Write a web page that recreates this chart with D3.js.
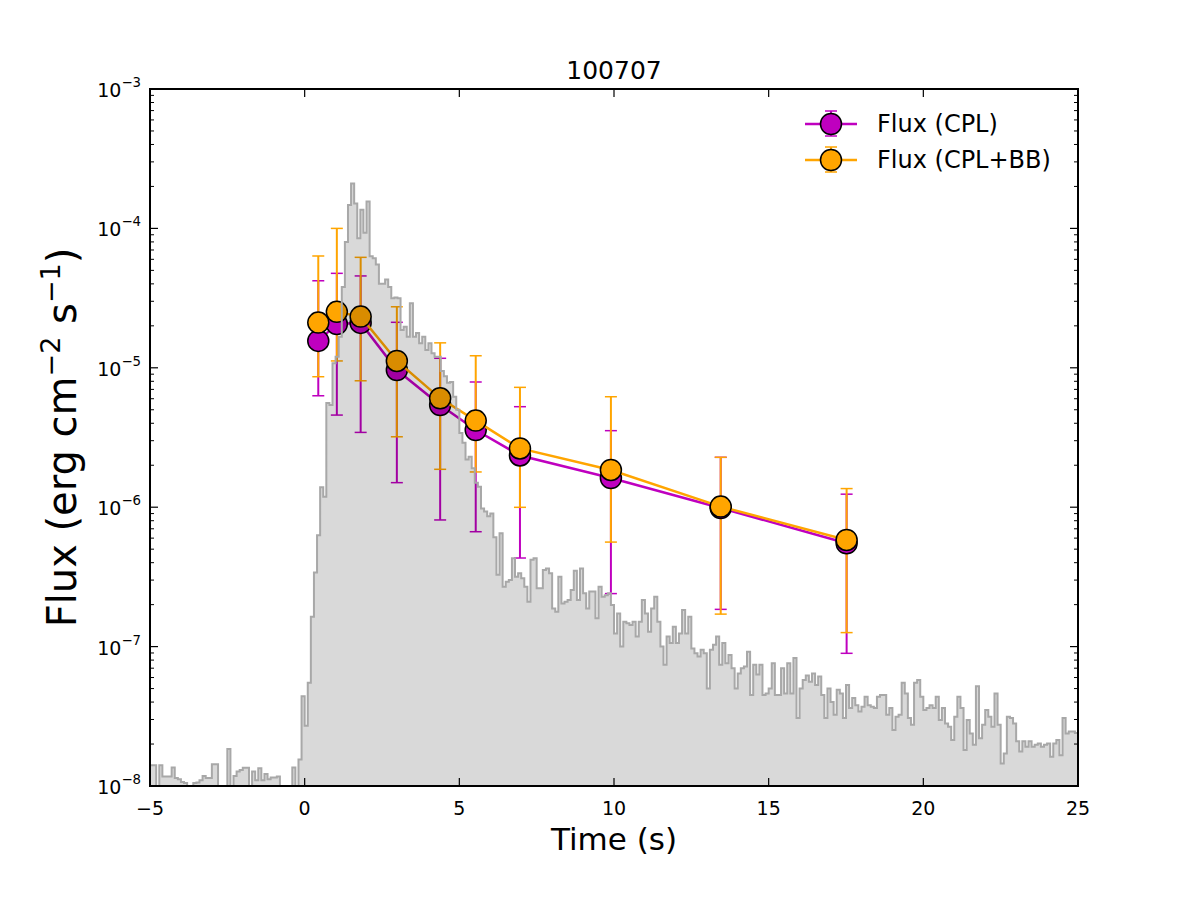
<!DOCTYPE html>
<html>
<head>
<meta charset="utf-8">
<script src="https://cdn.jsdelivr.net/npm/d3@7"></script>
<style>
body { margin: 0; background: #fff; }
text { font-family: "DejaVu Sans", sans-serif; fill: #000; }
</style>
</head>
<body>
<div id="chart"></div>
<script>
// light curve: 0.1 s bins from -5 s, values in units of 1e-8 erg cm^-2 s^-1 (0 = empty bin)
var histStart = -5;
var histBin = 0.1;
var histUnit = 1e-8;
var histVals = [
  // -5 .. 0 s
  1.41, 1.41, 0, 1.41, 1.17, 1.17, 1.17, 1.36, 1.14, 1.12,
  1.07, 1.05, 0, 0, 1.05, 1.06, 1.10, 1.18, 1.14, 1.14,
  1.43, 1.43, 0, 0, 0, 1.84, 0, 1.18, 1.27, 1.30,
  1.35, 1.35, 0, 1.27, 1.10, 1.34, 1.10, 1.22, 1.12, 1.15,
  1.15, 1.17, 0, 0, 0, 0, 1.36, 0, 1.55, 4.4,
  // 0 .. 5 s
  2.7, 5.5, 16.4, 34, 63, 139, 119, 560, 540, 1080,
  1200, 1670, 3800, 8000, 14700, 21000, 15100, 8500, 13600, 9300,
  15600, 6300, 6100, 5500, 4000, 4000, 4300, 3800, 3150, 3200,
  3150, 1870, 1970, 1670, 2900, 1670, 1780, 1500, 1670, 1340,
  1500, 1270, 1200, 1200, 950, 870, 780, 790, 620, 500,
  // 5 .. 10 s
  340, 290, 220, 230, 190, 150, 140, 98, 93, 86,
  90, 61, 32.7, 65, 26.9, 29.2, 30, 43, 31.7, 33.6,
  30.9, 26.9, 21, 42, 43, 26.2, 26.2, 35.5, 36.4, 33.6,
  18.8, 17.8, 31.7, 20.4, 21, 21.6, 25.5, 35, 21.6, 36.4,
  24.1, 18.8, 24.8, 24.8, 16, 26.9, 22.8, 23.4, 24.1, 19.9,
  // 10 .. 15 s
  12.4, 17.3, 10.0, 15.1, 14.7, 14.3, 15.1, 11.8, 15.1, 21.6,
  17.3, 12.8, 18.8, 22.8, 15.1, 10.0, 7.4, 11.8, 10.6, 13.9,
  10.6, 12.4, 18.3, 12.4, 16.4, 9.7, 8.95, 8.5, 9.5, 8.95,
  5.0, 9.5, 10.3, 11.8, 7.4, 10.6, 7.6, 8.7, 7.0, 5.0,
  6.4, 7.0, 7.2, 9.2, 4.5, 7.4, 6.3, 7.4, 4.5, 4.6,
  // 15 .. 25 s
  5.0, 7.6, 4.5, 4.5, 7.0, 4.6, 7.6, 4.6, 8.3, 3.07,
  5.0, 5.75, 6.2, 5.6, 6.4, 5.3, 6.1, 4.5, 3.07, 5.0,
  4.0, 3.24, 4.9, 4.6, 3.07, 5.3, 3.63, 4.27, 3.8, 3.43,
  3.71, 4.37, 3.8, 3.71, 3.63, 4.37, 4.5, 4.5, 3.24, 3.63,
  2.52, 3.14, 3.24, 5.5, 4.6, 3.07, 2.75, 5.5, 5.75, 4.37,
  3.51, 3.63, 3.8, 3.63, 4.37, 2.97, 3.63, 2.81, 2.66, 2.14,
  3.14, 4.37, 3.63, 1.81, 2.97, 2.38, 1.98, 5.2, 2.2, 2.75,
  3.51, 3.14, 2.66, 4.6, 2.75, 1.45, 1.71, 3.14, 3.07, 2.81,
  2.09, 1.77, 2.09, 1.91, 2.09, 1.91, 1.98, 2.02, 1.91, 1.98,
  2.02, 1.62, 2.02, 2.14, 1.66, 3.07, 2.38, 2.46, 2.46, 2.4
];

// time-resolved spectral fits
var times = [0.44, 1.04, 1.81, 2.98, 4.38, 5.53, 6.96, 9.90, 13.45, 17.52];
var fluxCPL   = [1.56e-5, 2.06e-5, 2.1e-5, 9.64e-6, 5.41e-6, 3.58e-6, 2.35e-6, 1.62e-6, 9.87e-7, 5.51e-7];
var fluxCPLhi = [4.21e-5, 4.76e-5, 4.56e-5, 2.12e-5, 1.17e-5, 7.91e-6, 5.26e-6, 3.54e-6, 2.28e-6, 1.24e-6];
var fluxCPLlo = [6.3e-6, 4.58e-6, 3.44e-6, 1.5e-6, 8.1e-7, 6.67e-7, 4.32e-7, 2.4e-7, 1.85e-7, 8.95e-8];
var fluxBB    = [2.11e-5, 2.52e-5, 2.33e-5, 1.12e-5, 6.04e-6, 4.18e-6, 2.64e-6, 1.85e-6, 1.01e-6, 5.82e-7];
var fluxBBhi  = [6.34e-5, 1.0e-4, 6.2e-5, 2.74e-5, 1.51e-5, 1.22e-5, 7.24e-6, 6.2e-6, 2.28e-6, 1.36e-6];
var fluxBBlo  = [8.63e-6, 1.12e-5, 8.07e-6, 3.2e-6, 1.87e-6, 1.79e-6, 9.98e-7, 5.62e-7, 1.71e-7, 1.26e-7];

var xTicks = [-5, 0, 5, 10, 15, 20, 25];
var yExps = [-8, -7, -6, -5, -4, -3];

var series = [
  {name: "Flux (CPL)", color: "#bf00bf", val: fluxCPL, lo: fluxCPLlo, hi: fluxCPLhi},
  {name: "Flux (CPL+BB)", color: "#ffa500", val: fluxBB, lo: fluxBBlo, hi: fluxBBhi}
];

var svgWidth = 1200, svgHeight = 900;
var margin = {top: 89, right: 122, bottom: 114, left: 150};
var width = svgWidth - margin.left - margin.right;
var height = svgHeight - margin.top - margin.bottom;

var svg = d3.select("#chart").append("svg")
  .attr("width", svgWidth)
  .attr("height", svgHeight);

svg.append("defs").append("clipPath").attr("id", "plotclip")
  .append("rect").attr("width", width).attr("height", height);

var g = svg.append("g")
  .attr("transform", `translate(${margin.left}, ${margin.top})`);

var x = d3.scaleLinear().domain([-5, 25]).range([0, width]);
var y = d3.scaleLog().domain([1e-8, 1e-3]).range([height, 0]);

var plot = g.append("g").attr("clip-path", "url(#plotclip)");

// error bars first, then lines and markers
series.forEach(function(s) {
  var eb = plot.append("g").attr("stroke", s.color);
  times.forEach(function(t, i) {
    var cx = x(t);
    eb.append("line").attr("x1", cx).attr("x2", cx)
      .attr("y1", y(s.lo[i])).attr("y2", y(s.hi[i])).attr("stroke-width", 2);
    [s.lo[i], s.hi[i]].forEach(function(v) {
      eb.append("line").attr("x1", cx - 6).attr("x2", cx + 6)
        .attr("y1", y(v)).attr("y2", y(v)).attr("stroke-width", 1.5);
    });
  });
});

series.forEach(function(s) {
  var line = d3.line().x(function(d, i) { return x(times[i]); }).y(function(d) { return y(d); });
  plot.append("path").datum(s.val)
    .attr("d", line)
    .attr("fill", "none")
    .attr("stroke", s.color)
    .attr("stroke-width", 2.5);
  plot.selectAll(null).data(s.val).enter().append("circle")
    .attr("cx", function(d, i) { return x(times[i]); })
    .attr("cy", function(d) { return y(d); })
    .attr("r", 10.5)
    .attr("fill", s.color)
    .attr("stroke", "#000")
    .attr("stroke-width", 1.5);
});

// light curve drawn on top, translucent
var floorVal = 1e-9;
var pts = [[x(histStart), y(floorVal)]];
histVals.forEach(function(v, i) {
  var x0 = histStart + i * histBin;
  var yy = v > 0 ? y(v * histUnit) : y(floorVal);
  pts.push([x(x0), yy], [x(x0 + histBin), yy]);
});
pts.push([x(histStart + histVals.length * histBin), y(floorVal)]);
plot.append("path")
  .attr("d", d3.line()(pts))
  .attr("fill", "#000")
  .attr("fill-opacity", 0.15)
  .attr("stroke", "#a8a8a8")
  .attr("stroke-width", 2);

// frame and ticks (inward, all four sides)
var ticks = g.append("g").attr("stroke", "#000");
xTicks.forEach(function(t) {
  ticks.append("line").attr("x1", x(t)).attr("x2", x(t)).attr("y1", height).attr("y2", height - 8).attr("stroke-width", 1.2);
  ticks.append("line").attr("x1", x(t)).attr("x2", x(t)).attr("y1", 0).attr("y2", 8).attr("stroke-width", 1.2);
});
yExps.forEach(function(e) {
  var yy = y(Math.pow(10, e));
  ticks.append("line").attr("x1", 0).attr("x2", 8).attr("y1", yy).attr("y2", yy).attr("stroke-width", 1.2);
  ticks.append("line").attr("x1", width).attr("x2", width - 8).attr("y1", yy).attr("y2", yy).attr("stroke-width", 1.2);
  if (e < -3) {
    d3.range(2, 10).forEach(function(m) {
      var ym = y(m * Math.pow(10, e));
      ticks.append("line").attr("x1", 0).attr("x2", 4).attr("y1", ym).attr("y2", ym).attr("stroke-width", 1);
      ticks.append("line").attr("x1", width).attr("x2", width - 4).attr("y1", ym).attr("y2", ym).attr("stroke-width", 1);
    });
  }
});
g.append("rect").attr("width", width).attr("height", height)
  .attr("fill", "none").attr("stroke", "#000").attr("stroke-width", 2);

// tick labels
xTicks.forEach(function(t) {
  g.append("text").attr("x", x(t)).attr("y", height + 29)
    .attr("text-anchor", "middle").attr("font-size", 19)
    .text(t < 0 ? "\u2212" + Math.abs(t) : t);
});
yExps.forEach(function(e) {
  var lab = g.append("text").attr("x", -9).attr("y", y(Math.pow(10, e)) + 8)
    .attr("text-anchor", "end").attr("font-size", 19);
  lab.append("tspan").text("10");
  lab.append("tspan").attr("dy", -10).attr("font-size", 13.3).text("\u2212" + Math.abs(e));
});

// title and axis labels
g.append("text").attr("x", width / 2).attr("y", -10)
  .attr("text-anchor", "middle").attr("font-size", 25).text("100707");
g.append("text").attr("x", width / 2).attr("y", height + 64)
  .attr("text-anchor", "middle").attr("font-size", 31).text("Time (s)");
var yl = g.append("text")
  .attr("transform", `translate(${-74}, ${height / 2}) rotate(-90)`)
  .attr("text-anchor", "middle").attr("font-size", 40);
yl.append("tspan").text("Flux (erg cm");
yl.append("tspan").attr("dy", -16).attr("font-size", 27).text("\u22122");
yl.append("tspan").attr("dy", 16).text(" s");
yl.append("tspan").attr("dy", -16).attr("font-size", 27).text("\u22121");
yl.append("tspan").attr("dy", 16).text(")");

// legend
var legend = g.append("g").attr("transform", `translate(${655}, ${35})`);
series.forEach(function(s, i) {
  var row = legend.append("g").attr("transform", `translate(0, ${i * 36})`);
  row.append("line").attr("x1", 0).attr("x2", 52).attr("y1", 0).attr("y2", 0)
    .attr("stroke", s.color).attr("stroke-width", 2.5);
  row.append("line").attr("x1", 26).attr("x2", 26).attr("y1", -13).attr("y2", 12)
    .attr("stroke", s.color).attr("stroke-width", 2);
  [-13, 12].forEach(function(v) {
    row.append("line").attr("x1", 20).attr("x2", 32).attr("y1", v).attr("y2", v)
      .attr("stroke", s.color).attr("stroke-width", 1.5);
  });
  row.append("circle").attr("cx", 26).attr("cy", 0).attr("r", 10.5)
    .attr("fill", s.color).attr("stroke", "#000").attr("stroke-width", 1.5);
  row.append("text").attr("x", 72).attr("y", 8).attr("font-size", 24).text(s.name);
});
</script>
</body>
</html>
